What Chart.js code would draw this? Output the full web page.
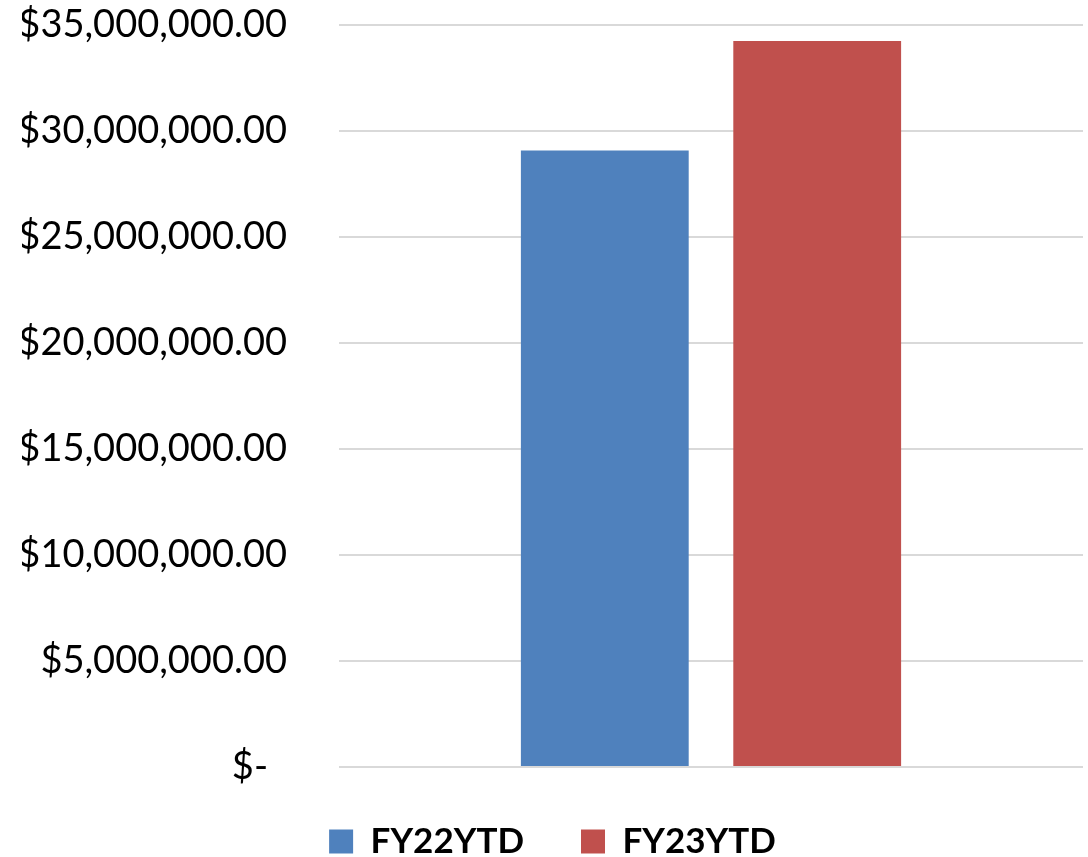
<!DOCTYPE html>
<html>
<head>
<meta charset="utf-8">
<script src="https://cdn.jsdelivr.net/npm/chart.js@4/dist/chart.umd.min.js"></script>
<style>
  html, body { margin: 0; padding: 0; background: #fff; }
  #wrap { width: 1088px; height: 857px; }
</style>
</head>
<body>
<div id="wrap"><canvas id="myChart"></canvas></div>
<script>
const categories = ['Total'];
const seriesNames = ['FY22YTD', 'FY23YTD'];
const fy22Values = [29080000];
const fy23Values = [34250000];
const seriesColors = ['#4F81BD', '#C0504D'];

// accounting style, zero shows as "$-" with a little room on the right
function money(v) {
  if (v === 0) return '$-\u2002';
  return '$' + v.toLocaleString('en-US', { minimumFractionDigits: 2, maximumFractionDigits: 2 });
}

Chart.defaults.font.family = 'Lato, "Open Sans", sans-serif';
Chart.defaults.color = '#000';

const ctx = document.getElementById('myChart');

new Chart(ctx, {
  type: 'bar',
  data: {
    labels: categories,
    datasets: [
      { label: seriesNames[0], data: fy22Values, backgroundColor: seriesColors[0] },
      { label: seriesNames[1], data: fy23Values, backgroundColor: seriesColors[1] }
    ]
  },
  options: {
    responsive: true,
    maintainAspectRatio: false,
    animation: false,
    categoryPercentage: 0.571,
    barPercentage: 0.79,
    layout: { padding: { top: 0, right: 5, bottom: -12, left: 22 } },
    plugins: {
      tooltip: { enabled: false },
      legend: {
        position: 'bottom',
        labels: {
          boxWidth: 24,
          boxHeight: 24,
          padding: 57,
          font: { size: 35, weight: 'bold' }
        }
      }
    },
    scales: {
      x: {
        display: false
      },
      y: {
        min: 0,
        max: 35000000,
        ticks: {
          stepSize: 5000000,
          padding: 52,
          font: { size: 38 },
          callback: function(v) { return money(v); }
        },
        grid: { color: '#d9d9d9', lineWidth: 2, drawTicks: false },
        border: { display: false },
        afterFit: function(scale) {
          scale.width = 317;
          scale.paddingTop = 25;
          scale.paddingBottom = 0;
        }
      }
    }
  }
});
</script>
</body>
</html>
